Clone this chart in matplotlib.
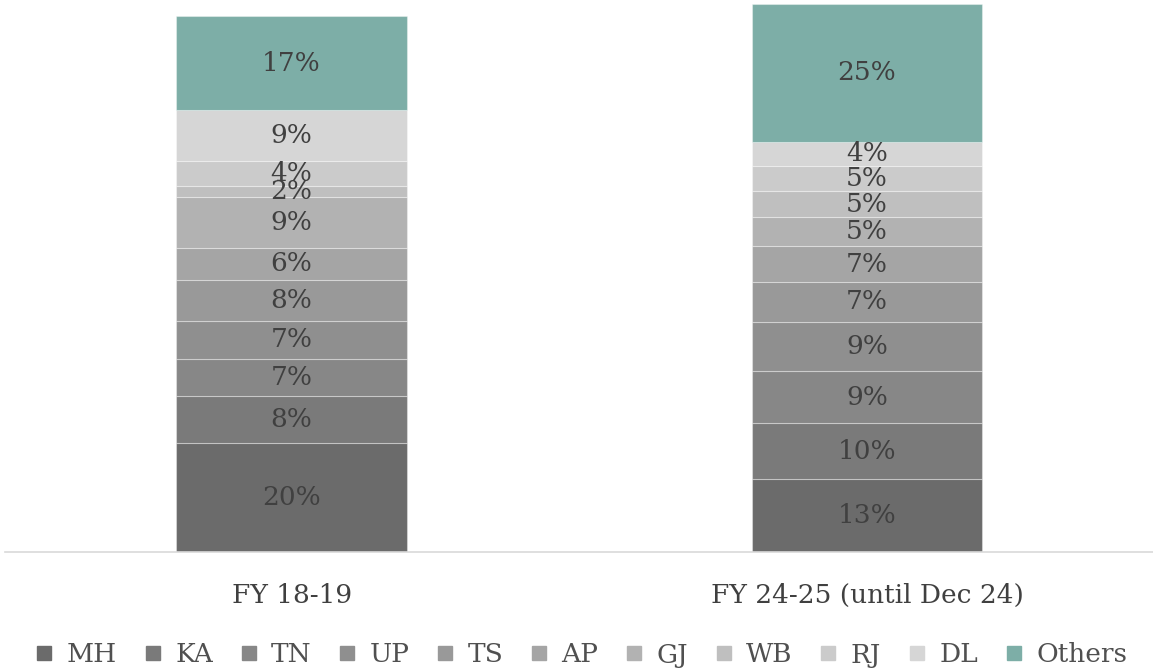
import matplotlib
matplotlib.use("Agg")
import matplotlib.pyplot as plt
from matplotlib.lines import Line2D

categories = ["FY 18-19", "FY 24-25 (until Dec 24)"]
series = ["MH", "KA", "TN", "UP", "TS", "AP", "GJ", "WB", "RJ", "DL", "Others"]
values_fy19 = [19.8, 8.6, 6.7, 6.9, 7.5, 5.8, 9.3, 1.9, 4.5, 9.4, 17.0]
values_fy25 = [13.2, 10.2, 9.5, 9.0, 7.2, 6.5, 5.3, 4.7, 4.6, 4.4, 25.0]
labels_fy19 = ["20%", "8%", "7%", "7%", "8%", "6%", "9%", "2%", "4%", "9%", "17%"]
labels_fy25 = ["13%", "10%", "9%", "9%", "7%", "7%", "5%", "5%", "5%", "4%", "25%"]
colors = ["#6b6b6b", "#7a7a7a", "#878787", "#8f8f8f", "#999999", "#a5a5a5",
          "#b2b2b2", "#bfbfbf", "#cbcbcb", "#d6d6d6", "#7daea7"]

FONT = ["DejaVu Serif"]
TXT = "#404040"

fig = plt.figure(figsize=(11.53, 6.70), dpi=100)
ax = fig.add_axes([5 / 1153, 118 / 670, 1148 / 1153, 552 / 670])

vals = [values_fy19, values_fy25]
labs = [labels_fy19, labels_fy25]
for ci in range(len(categories)):
    bottom = 0.0
    for si in range(len(series)):
        v = vals[ci][si]
        ax.bar(ci, v, bottom=bottom, width=0.4, color=colors[si],
               edgecolor=(1, 1, 1, 0.35), linewidth=0.8)
        ax.text(ci, bottom + v / 2, labs[ci][si], ha="center", va="center",
                fontsize=19, color=TXT, family=FONT)
        bottom += v

ax.set_xlim(-0.498, 1.497)
ax.set_ylim(0, 552 / 5.5)
for s in ["top", "right", "left"]:
    ax.spines[s].set_visible(False)
ax.spines["bottom"].set_color("#d9d9d9")
ax.spines["bottom"].set_linewidth(1.2)
ax.set_yticks([])
ax.set_xticks(range(len(categories)))
ax.set_xticklabels(categories, fontsize=19, color=TXT, family=FONT)
ax.tick_params(axis="x", length=0, pad=22)

handles = [Line2D([], [], marker="s", linestyle="none", markersize=9.5,
                  markerfacecolor=c, markeredgecolor=c) for c in colors]
fig.legend(handles, series, loc="center", bbox_to_anchor=(0.504, 15 / 670),
           ncol=len(series), frameon=False,
           prop={"family": FONT, "size": 19}, labelcolor="#505050",
           handlelength=0.7, handletextpad=0.5, columnspacing=1.0)

fig.savefig("out.png", dpi=100)
